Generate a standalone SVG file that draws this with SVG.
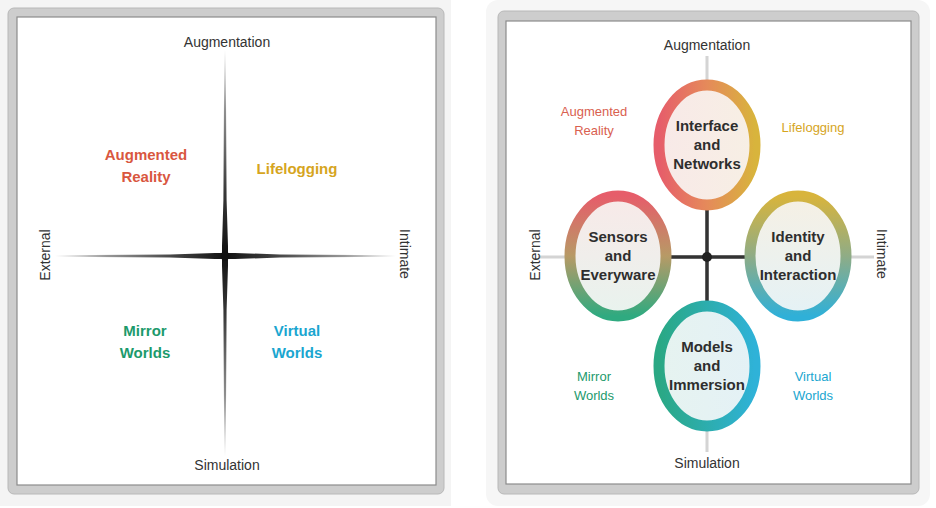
<svg xmlns="http://www.w3.org/2000/svg" width="936" height="508" viewBox="0 0 936 508">
<defs>
<style>
.ax{font-family:"Liberation Sans",Arial,sans-serif;font-size:14px;fill:#333;text-anchor:middle}
.q{font-family:"Liberation Sans",Arial,sans-serif;font-size:15px;font-weight:bold;text-anchor:middle}
.q2{font-family:"Liberation Sans",Arial,sans-serif;font-size:13px;text-anchor:middle}
.n{font-family:"Liberation Sans",Arial,sans-serif;font-size:15px;font-weight:bold;fill:#2e2e2e;text-anchor:middle}
.outer{fill:#cdcdcd;stroke:#b8b8b8;stroke-width:1}
.inner{fill:#fff;stroke:#8c8c8c;stroke-width:1.2}
.ring{stroke-width:11}
</style>
<linearGradient id="gv" x1="0" y1="0" x2="0" y2="1">
<stop offset="0" stop-color="#444" stop-opacity="0"/>
<stop offset="0.15" stop-color="#333" stop-opacity="0.55"/>
<stop offset="0.35" stop-color="#222" stop-opacity="0.9"/>
<stop offset="0.5" stop-color="#111" stop-opacity="1"/>
<stop offset="0.65" stop-color="#222" stop-opacity="0.9"/>
<stop offset="0.85" stop-color="#333" stop-opacity="0.55"/>
<stop offset="1" stop-color="#444" stop-opacity="0"/>
</linearGradient>
<linearGradient id="gh" x1="0" y1="0" x2="1" y2="0">
<stop offset="0" stop-color="#444" stop-opacity="0"/>
<stop offset="0.15" stop-color="#333" stop-opacity="0.5"/>
<stop offset="0.35" stop-color="#222" stop-opacity="0.85"/>
<stop offset="0.5" stop-color="#111" stop-opacity="1"/>
<stop offset="0.65" stop-color="#222" stop-opacity="0.85"/>
<stop offset="0.85" stop-color="#333" stop-opacity="0.5"/>
<stop offset="1" stop-color="#444" stop-opacity="0"/>
</linearGradient>
<linearGradient id="gTop" x1="0" y1="0" x2="1" y2="0">
<stop offset="0" stop-color="#e65d6a"/><stop offset="0.5" stop-color="#e58a5a"/><stop offset="1" stop-color="#d8b43c"/>
</linearGradient>
<linearGradient id="gLeft" x1="0" y1="0" x2="0" y2="1">
<stop offset="0" stop-color="#e65d6a"/><stop offset="0.5" stop-color="#b79a66"/><stop offset="1" stop-color="#2faa80"/>
</linearGradient>
<linearGradient id="gRight" x1="0" y1="0" x2="0" y2="1">
<stop offset="0" stop-color="#d8b43c"/><stop offset="0.5" stop-color="#8fac86"/><stop offset="1" stop-color="#2fb0d8"/>
</linearGradient>
<linearGradient id="gBot" x1="0" y1="0" x2="1" y2="0">
<stop offset="0" stop-color="#2aa884"/><stop offset="1" stop-color="#2fb2d8"/>
</linearGradient>
<linearGradient id="fTop" x1="0" y1="0" x2="1" y2="0">
<stop offset="0" stop-color="#f8e9e8"/><stop offset="1" stop-color="#f7efe4"/>
</linearGradient>
<linearGradient id="fLeft" x1="0" y1="0" x2="0" y2="1">
<stop offset="0" stop-color="#f8e9e8"/><stop offset="1" stop-color="#e8f3ee"/>
</linearGradient>
<linearGradient id="fRight" x1="0" y1="0" x2="0" y2="1">
<stop offset="0" stop-color="#f6f0e4"/><stop offset="1" stop-color="#e4f2f6"/>
</linearGradient>
<linearGradient id="fBot" x1="0" y1="0" x2="1" y2="0">
<stop offset="0" stop-color="#e6f3f0"/><stop offset="1" stop-color="#e4f1f6"/>
</linearGradient>
</defs>

<rect x="0" y="0" width="936" height="508" fill="#fff"/>
<rect x="0" y="0" width="451" height="506" fill="#f4f4f4"/>
<rect x="486" y="0" width="444" height="506" rx="12" fill="#f6f6f6"/>

<g id="left-panel">
<rect class="outer" x="8" y="8" width="436" height="486" rx="6"/>
<rect class="inner" x="17" y="17" width="419" height="468"/>
</g>
<g id="right-panel">
<rect class="outer" x="498" y="11" width="421" height="483" rx="6"/>
<rect class="inner" x="506" y="21" width="405" height="463"/>
</g>

<g id="connectors">
<polygon points="224.3,50 225.7,50 226.6,200 228,246 228,266 226.6,310 225.7,456 224.3,456 223.4,310 222,266 222,246 223.4,200" fill="url(#gv)"/>
<polygon points="55,255.3 55,256.7 170,257.6 215,259 235,259 280,257.6 396,256.7 396,255.3 280,254.4 235,253 215,253 170,254.4" fill="url(#gh)"/>
<circle cx="225" cy="256" r="4.5" fill="#111"/>
<line x1="707" y1="56" x2="707" y2="452" stroke="#d4d4d4" stroke-width="3"/>
<line x1="538" y1="257" x2="874" y2="257" stroke="#d4d4d4" stroke-width="3"/>
<line x1="707" y1="205" x2="707" y2="306" stroke="#333" stroke-width="3.5"/>
<line x1="668" y1="257" x2="750" y2="257" stroke="#333" stroke-width="3.5"/>
<circle cx="707" cy="257" r="5" fill="#222"/>
</g>

<g id="left-labels">
<text class="ax" x="227" y="47">Augmentation</text>
<text class="ax" x="227" y="470">Simulation</text>
<text class="ax" transform="translate(50,255) rotate(-90)">External</text>
<text class="ax" transform="translate(400,254) rotate(90)">Intimate</text>
<text class="q" fill="#d9573f" x="146" y="160">Augmented</text>
<text class="q" fill="#d9573f" x="146" y="182">Reality</text>
<text class="q" fill="#d6a51e" x="297" y="174">Lifelogging</text>
<text class="q" fill="#1c9a6c" x="145" y="336">Mirror</text>
<text class="q" fill="#1c9a6c" x="145" y="358">Worlds</text>
<text class="q" fill="#1aa6d0" x="297" y="336">Virtual</text>
<text class="q" fill="#1aa6d0" x="297" y="358">Worlds</text>
</g>

<g id="right-labels">
<text class="ax" x="707" y="50">Augmentation</text>
<text class="ax" x="707" y="468">Simulation</text>
<text class="ax" transform="translate(540,255) rotate(-90)">External</text>
<text class="ax" transform="translate(877,254) rotate(90)">Intimate</text>
<text class="q2" fill="#d9604f" x="594" y="116">Augmented</text>
<text class="q2" fill="#d9604f" x="594" y="135">Reality</text>
<text class="q2" fill="#d6a51e" x="813" y="132">Lifelogging</text>
<text class="q2" fill="#1c9a6c" x="594" y="381">Mirror</text>
<text class="q2" fill="#1c9a6c" x="594" y="400">Worlds</text>
<text class="q2" fill="#1aa6d0" x="813" y="381">Virtual</text>
<text class="q2" fill="#1aa6d0" x="813" y="400">Worlds</text>
</g>

<g id="node-interface">
<ellipse class="ring" cx="707" cy="145" rx="48" ry="60" fill="url(#fTop)" stroke="url(#gTop)"/>
<text class="n" x="707" y="131">Interface</text>
<text class="n" x="707" y="150">and</text>
<text class="n" x="707" y="169">Networks</text>
</g>
<g id="node-sensors">
<ellipse class="ring" cx="618" cy="256" rx="48" ry="60" fill="url(#fLeft)" stroke="url(#gLeft)"/>
<text class="n" x="618" y="242">Sensors</text>
<text class="n" x="618" y="261">and</text>
<text class="n" x="618" y="280">Everyware</text>
</g>
<g id="node-identity">
<ellipse class="ring" cx="798" cy="256" rx="48" ry="60" fill="url(#fRight)" stroke="url(#gRight)"/>
<text class="n" x="798" y="242">Identity</text>
<text class="n" x="798" y="261">and</text>
<text class="n" x="798" y="280">Interaction</text>
</g>
<g id="node-models">
<ellipse class="ring" cx="707" cy="366" rx="48" ry="60" fill="url(#fBot)" stroke="url(#gBot)"/>
<text class="n" x="707" y="352">Models</text>
<text class="n" x="707" y="371">and</text>
<text class="n" x="707" y="390">Immersion</text>
</g>
</svg>
